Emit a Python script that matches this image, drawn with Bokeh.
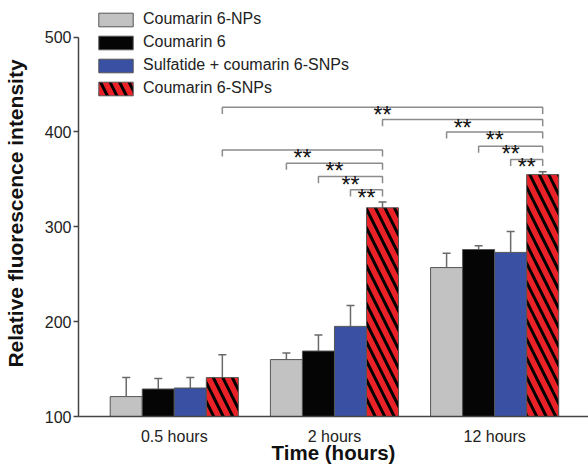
from bokeh.plotting import figure
from bokeh.models import (ColumnDataSource, Whisker, TeeHead, FixedTicker, Legend,
                          LegendItem, Range1d)
from bokeh.embed import file_html
from bokeh.resources import INLINE
from bokeh.core.properties import value

# ---------------- data ----------------
groups = ["0.5 hours", "2 hours", "12 hours"]
series_names = ["Coumarin 6-NPs", "Coumarin 6", "Sulfatide + coumarin 6-SNPs", "Coumarin 6-SNPs"]
np_mean = [121, 160, 257]
np_err = [20, 7, 15]
c6_mean = [129, 169, 276]
c6_err = [11, 17, 4]
sulf_mean = [130, 195, 273]
sulf_err = [11, 22, 22]
snp_mean = [141, 320, 355]
snp_err = [24, 6, 3]
y_ticks = [100, 200, 300, 400, 500]

# significance brackets: (group a, series a, group b, series b, level)
brackets = [
    (0, 3, 2, 3, 426),
    (1, 3, 2, 3, 413),
    (2, 0, 2, 3, 400),
    (2, 1, 2, 3, 385),
    (2, 2, 2, 3, 371),
    (0, 3, 1, 3, 381),
    (1, 0, 1, 3, 367),
    (1, 1, 1, 3, 353),
    (1, 2, 1, 3, 339),
]
sig_labels = ["**"] * len(brackets)

# ---------------- style ----------------
FONT = "Liberation Sans"
colors = ["#c2c2c2", "#050505", "#3a51a3", "#ea2228"]
hatches = [None, None, None, "\\"]
bar_w = 0.2
offsets = [-0.3, -0.1, 0.1, 0.3]
arm = 7

p = figure(width=588, height=466, output_backend="svg", toolbar_location=None,
           x_range=Range1d(0.402, 3.586), y_range=Range1d(100, 528),
           min_border_left=77, min_border_right=0, min_border_top=10, min_border_bottom=48)
p.outline_line_color = None
p.xgrid.grid_line_color = None
p.ygrid.grid_line_color = None
p.background_fill_color = "white"

means = [np_mean, c6_mean, sulf_mean, snp_mean]
errs = [np_err, c6_err, sulf_err, snp_err]
items = []
for k in range(4):
    xs = [i + 1 + offsets[k] for i in range(len(groups))]
    src = ColumnDataSource(dict(x=xs, top=means[k],
                                upper=[m + e for m, e in zip(means[k], errs[k])]))
    w = Whisker(source=src, base="x", lower="top", upper="upper", dimension="height",
                line_color="#6a6a6a", line_width=1.5, lower_head=None,
                upper_head=TeeHead(size=8, line_color="#6a6a6a", line_width=1.5))
    p.add_layout(w)
    kw = {}
    if hatches[k]:
        kw = dict(hatch_pattern=hatches[k], hatch_color="black", hatch_scale=19, hatch_weight=3)
    r = p.vbar(x="x", top="top", bottom=100, width=bar_w, source=src,
               fill_color=colors[k], line_color="#555555", line_width=1, **kw)
    items.append(LegendItem(label=series_names[k], renderers=[r]))

# brackets
bxs, bys, tx, ty = [], [], [], []
for (ga, sa, gb, sb, lvl) in brackets:
    x1 = ga + 1 + offsets[sa]
    x2 = gb + 1 + offsets[sb]
    bxs.append([x1, x1, x2, x2])
    bys.append([lvl - arm, lvl, lvl, lvl - arm])
    tx.append((x1 + x2) / 2)
    ty.append(lvl)
p.multi_line(xs=bxs, ys=bys, line_color="#8c8c8c", line_width=1.5)
p.text(x=tx, y=ty, text=sig_labels, text_align="center", text_baseline="alphabetic",
       y_offset=8, text_font=value(FONT), text_font_size="23px", text_color="#111111")

# axes
p.yaxis.ticker = FixedTicker(ticks=y_ticks)
p.yaxis.bounds = (100, 500)
p.yaxis.axis_label = "Relative fluorescence intensity"
p.yaxis.axis_label_text_font = FONT
p.yaxis.axis_label_text_font_style = "bold"
p.yaxis.axis_label_text_font_size = "21px"
p.yaxis.axis_label_text_color = "#111111"
p.yaxis.axis_label_standoff = 15
p.yaxis.major_label_text_font = FONT
p.yaxis.major_label_text_font_size = "16px"
p.yaxis.major_label_text_color = "#222222"
p.yaxis.major_label_standoff = 2
p.yaxis.major_tick_out = 5
p.yaxis.major_tick_in = 0
p.yaxis.minor_tick_line_color = None
p.yaxis.axis_line_color = "#444444"
p.yaxis.axis_line_width = 1.5
p.yaxis.major_tick_line_color = "#444444"
p.yaxis.major_tick_line_width = 1.5

p.xaxis.ticker = FixedTicker(ticks=[1, 2, 3])
p.xaxis.major_label_overrides = {i + 1: g for i, g in enumerate(groups)}
p.xaxis.axis_label = "Time (hours)"
p.xaxis.axis_label_text_font = FONT
p.xaxis.axis_label_text_font_style = "bold"
p.xaxis.axis_label_text_font_size = "20.5px"
p.xaxis.axis_label_text_color = "#111111"
p.xaxis.axis_label_standoff = -7
p.xaxis.major_label_text_font = FONT
p.xaxis.major_label_text_font_size = "16px"
p.xaxis.major_label_text_color = "#222222"
p.xaxis.major_label_standoff = 11
p.xaxis.major_tick_out = 0
p.xaxis.major_tick_in = 0
p.xaxis.major_tick_line_color = None
p.xaxis.minor_tick_line_color = None
p.xaxis.axis_line_color = "#444444"
p.xaxis.axis_line_width = 1.5

legend = Legend(items=items, location=(16, 319), glyph_width=43, glyph_height=17,
                label_height=17, spacing=5, padding=0, margin=0, label_standoff=6,
                label_text_font=FONT, label_text_font_size="16px",
                label_text_color="#222222", border_line_color=None,
                background_fill_alpha=0)
p.add_layout(legend)

open("out.html", "w").write(file_html(p, INLINE))
